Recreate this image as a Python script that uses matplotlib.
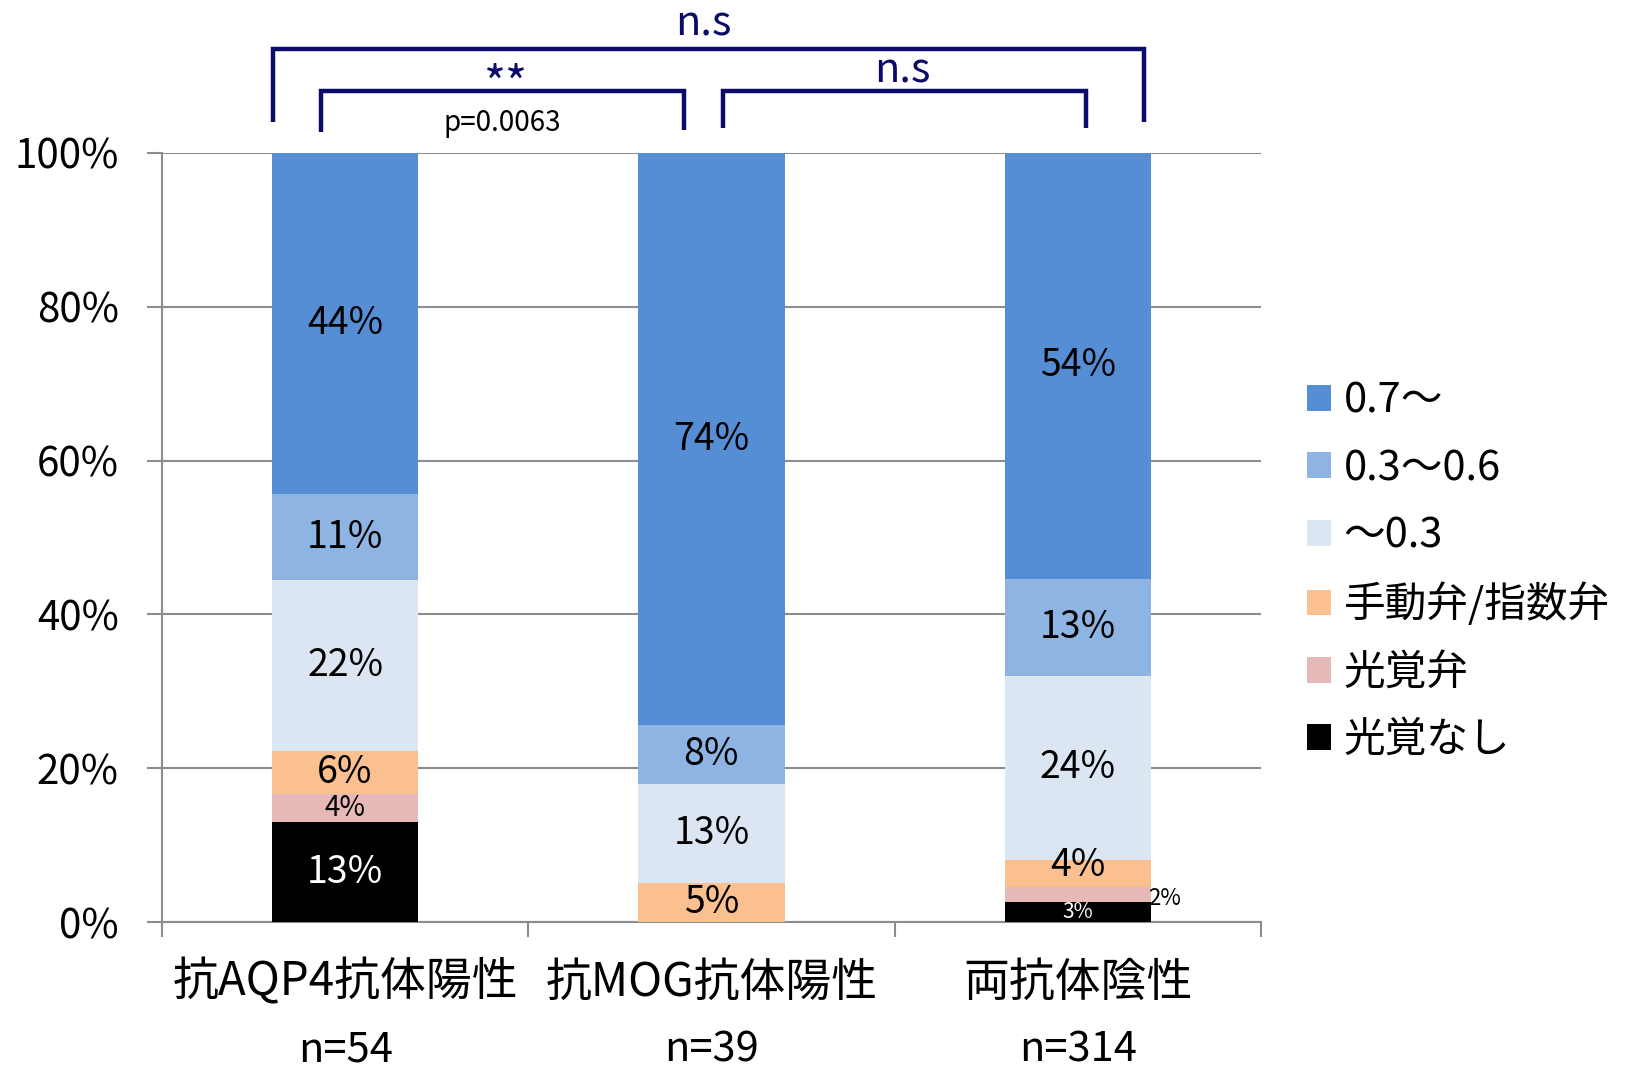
import numpy as np
import matplotlib
matplotlib.use("Agg")
import matplotlib.pyplot as plt
from matplotlib.patches import Patch

plt.rcParams['font.family'] = ['Noto Sans CJK JP', 'DejaVu Sans']

# データ（%）
groups = ['抗AQP4抗体陽性', '抗MOG抗体陽性', '両抗体陰性']
n_labels = ['n=54', 'n=39', 'n=314']
categories = ['光覚なし', '光覚弁', '手動弁/指数弁', '〜0.3', '0.3〜0.6', '0.7〜']
colors = ['#000000', '#E6B9B8', '#FAC090', '#DCE6F2', '#8EB4E3', '#558ED5']

v_none = [13.0, 0.0, 2.6]
v_lp = [3.7, 0.0, 1.9]
v_hm = [5.6, 5.1, 3.6]
v_low = [22.2, 12.8, 23.9]
v_mid = [11.1, 7.7, 12.6]
v_high = [44.4, 74.4, 55.4]

lab_none = ['13%', '', '3%']
lab_lp = ['4%', '', '2%']
lab_hm = ['6%', '5%', '4%']
lab_low = ['22%', '13%', '24%']
lab_mid = ['11%', '8%', '13%']
lab_high = ['44%', '74%', '54%']

series = [v_none, v_lp, v_hm, v_low, v_mid, v_high]
labels = [lab_none, lab_lp, lab_hm, lab_low, lab_mid, lab_high]

NAVY = '#0B0B6B'
GRID = '#8C8C8C'

# 小さいラベルの文字サイズ (系列番号, 棒番号) -> pt
small_fs = {(0, 2): 15, (1, 0): 20, (1, 2): 16}

fig = plt.figure(figsize=(16.29, 10.77), dpi=100)
ax = fig.add_axes([0.0994, 0.1439, 0.6747, 0.7141])

x = np.arange(len(groups))
bottom = np.zeros(len(groups))
for k, (vals, labs, col) in enumerate(zip(series, labels, colors)):
    vals = np.array(vals)
    ax.bar(x, vals, width=0.4, bottom=bottom, color=col, linewidth=0, zorder=3)
    for i, (v, lb) in enumerate(zip(vals, labs)):
        if not lb:
            continue
        tc = 'white' if col == '#000000' else 'black'
        fs = small_fs.get((k, i), 27)
        xx, yy = x[i], bottom[i] + v / 2
        if (k, i) == (1, 2):
            # 2% は棒の右外側
            xx, yy = x[i] + 0.236, yy - 0.5
        if (k, i) == (2, 2):
            yy += 1.0
        ax.text(xx, yy, lb, ha='center', va='center', color=tc, fontsize=fs, zorder=4)
    bottom += vals

ax.set_xlim(-0.5, 2.5)
ax.set_ylim(0, 100)
ax.set_yticks(np.arange(0, 101, 20))
ax.set_yticklabels([f'{t}%' for t in range(0, 101, 20)], fontsize=29)
ax.yaxis.grid(True, color=GRID, lw=1.5, zorder=0)
ax.set_axisbelow(True)
for s in ['top', 'right']:
    ax.spines[s].set_visible(False)
for s in ['left', 'bottom']:
    ax.spines[s].set_color(GRID)
    ax.spines[s].set_linewidth(1.5)
ax.tick_params(axis='y', direction='out', length=11, width=1.5, color=GRID, pad=20)

ax.set_xticks(x)
ax.set_xticklabels(groups, fontsize=33)
ax.set_xticks([-0.5, 0.5, 1.5, 2.5], minor=True)
ax.tick_params(axis='x', which='major', length=0, pad=26)
ax.tick_params(axis='x', which='minor', direction='out', length=11, width=1.5, color=GRID)
for i, nl in enumerate(n_labels):
    ax.text(x[i], -0.167, nl, transform=ax.get_xaxis_transform(), ha='center', va='center',
            fontsize=30)


# 有意差ブラケット
def bracket(x0, x1, y0, y1, ytop):
    ax.plot([x0, x0, x1, x1], [y0, ytop, ytop, y1], color=NAVY, lw=3.2,
            clip_on=False, solid_joinstyle='miter', solid_capstyle='butt', zorder=5)


bracket(-0.196, 2.18, 104.0, 104.0, 113.5)
bracket(-0.065, 0.926, 102.7, 103.0, 108.0)
bracket(1.031, 2.023, 103.2, 103.2, 108.1)
ax.text(0.977, 116.8, 'n.s', ha='center', va='center', color=NAVY, fontsize=30, clip_on=False)
ax.text(1.52, 110.7, 'n.s', ha='center', va='center', color=NAVY, fontsize=30, clip_on=False)
ax.text(0.44, 108.6, '**', ha='center', va='center', color=NAVY, fontsize=34, clip_on=False)
ax.text(0.43, 103.9, 'p=0.0063', ha='center', va='center', color='black', fontsize=20,
        clip_on=False)

# 凡例（上から 0.7〜）
handles = [Patch(facecolor=c, edgecolor='none') for c in colors][::-1]
fig.legend(handles, categories[::-1], loc='center left', bbox_to_anchor=(1307 / 1629, 0.470),
           frameon=False, fontsize=30, handlelength=0.58, handleheight=0.58,
           handletextpad=0.3, labelspacing=0.63, borderpad=0, borderaxespad=0)

fig.savefig('out.png', dpi=100)
